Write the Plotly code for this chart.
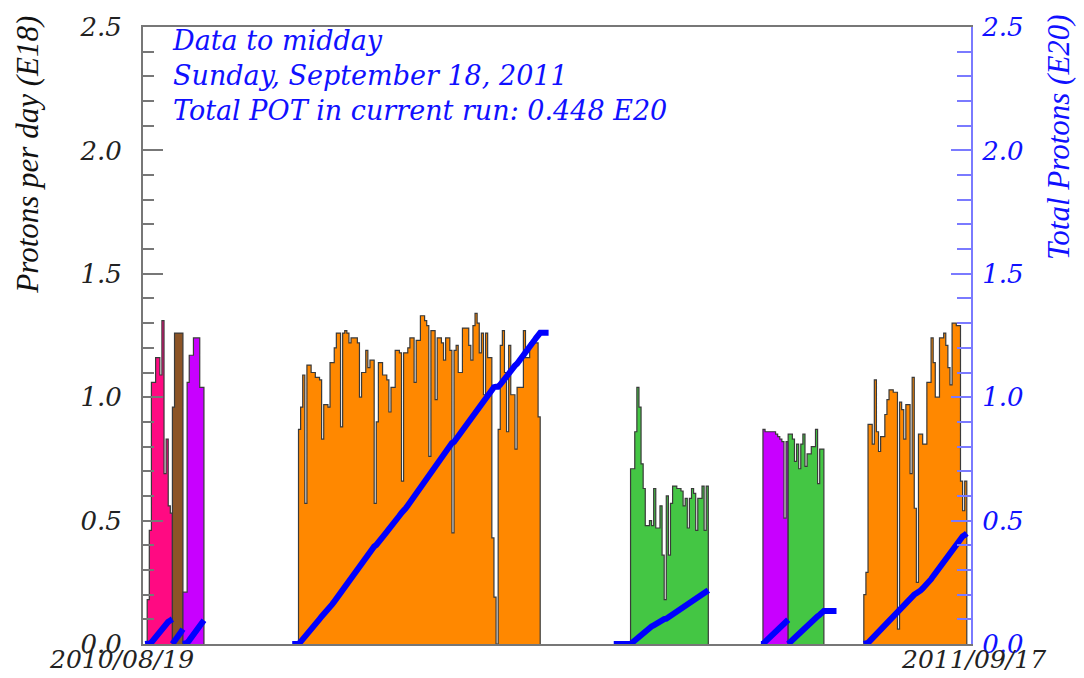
import numpy as np
import pandas as pd
import plotly.graph_objects as go

# ---------------------------------------------------------------- data
axis_start = "2010-08-19"
axis_end = "2011-09-17"
date_labels = ["2010/08/19", "2011/09/17"]
y_tick_values = [0.0, 0.5, 1.0, 1.5, 2.0, 2.5]

header_lines = ["Data to midday", "Sunday, September 18, 2011"]

# daily protons on target (E18) per running period
pink_first_day = "2010-08-21"
pink_pot = [0.18, 0.46, 1.06, 1.06, 1.16, 1.16, 1.09, 1.31, 0.69, 0.83, 0.56, 0.53]
pink_window = ("2010-08-20", "2010-09-02")

brown_first_day = "2010-09-02"
brown_pot = [0.96, 1.26, 1.26, 1.26, 1.26]
brown_window = ("2010-09-02", "2010-09-07")

purple_first_day = "2010-09-07"
purple_pot = [0.21, 0.21, 1.06, 1.17, 1.17, 1.24, 1.24, 1.24, 1.04, 1.04]
purple_window = ("2010-09-07", "2010-09-17")

orange_first_day = "2010-11-01"
orange_pot = [
    0.87, 0.96, 1.09, 0.57, 1.13, 1.13, 1.10, 1.10, 1.08, 1.08,
    1.07, 0.83, 0.97, 0.97, 0.96, 1.14, 1.14, 1.20, 1.26, 1.26,
    0.88, 1.26, 1.27, 1.26, 1.22, 1.24, 1.24, 1.24, 1.22, 1.00,
    1.10, 1.10, 1.19, 1.12, 1.15, 1.15, 0.57, 0.90, 1.14, 1.14,
    1.09, 1.09, 1.07, 0.94, 1.04, 1.04, 1.19, 1.19, 1.18, 0.66,
    1.18, 1.18, 1.20, 1.24, 1.24, 1.06, 1.23, 1.23, 1.33, 1.33,
    1.31, 1.29, 0.76, 1.27, 1.27, 0.99, 1.24, 1.24, 1.22, 1.15,
    1.24, 1.24, 1.19, 0.45, 1.19, 1.21, 1.10, 1.10, 1.28, 1.28,
    1.28, 1.21, 1.15, 1.29, 1.34, 1.30, 1.18, 1.26, 1.01, 1.26,
    1.16, 1.16, 0.43, 0.19, 0.00, 0.87, 1.21, 1.27, 1.10, 0.86,
    1.21, 1.01, 1.01, 0.79, 1.04, 1.04, 1.04, 1.27, 1.16, 1.16,
    1.22, 1.22, 1.22, 1.22, 0.92,
]
orange_window = ("2010-10-29", "2011-02-28")

green_first_day = "2011-04-08"
green_pot = [
    0.71, 0.71, 0.86, 1.04, 0.96, 0.73, 0.63, 0.48, 0.48, 0.50,
    0.48, 0.63, 0.47, 0.47, 0.56, 0.36, 0.18, 0.60, 0.36, 0.57,
    0.64, 0.64, 0.63, 0.63, 0.62, 0.56, 0.59, 0.47, 0.59, 0.63,
    0.61, 0.46, 0.59, 0.59, 0.64, 0.46, 0.64,
]
green_window = ("2011-03-31", "2011-05-15")

purple2_first_day = "2011-06-10"
purple2_pot = [0.87, 0.86, 0.86, 0.86, 0.86, 0.86, 0.85, 0.84, 0.83, 0.82, 0.51, 0.82]
purple2_window = ("2011-06-09", "2011-06-22")

green2_first_day = "2011-06-22"
green2_pot = [0.85, 0.85, 0.83, 0.74, 0.81, 0.71, 0.81, 0.85, 0.72, 0.77,
              0.77, 0.80, 0.80, 0.87, 0.65, 0.79, 0.79]
green2_window = ("2011-06-22", "2011-07-15")

current_first_day = "2011-07-28"
current_pot = [
    0.20, 0.29, 0.89, 0.89, 0.81, 1.07, 0.86, 0.78, 0.84, 0.84,
    0.93, 0.99, 1.03, 1.03, 1.02, 1.02, 0.06, 0.98, 0.95, 0.83,
    0.97, 0.97, 0.69, 1.08, 0.55, 0.25, 0.85, 0.85, 0.81, 0.81,
    1.06, 1.06, 1.24, 1.14, 1.00, 1.00, 1.24, 1.24, 1.26, 1.21,
    1.12, 1.05, 1.30, 1.30, 1.29, 1.29, 0.66, 0.54, 0.66,
]
current_window = ("2011-07-28", "2011-09-15")

# ---------------------------------------------------------------- styles
PINK = "#ff0a82"
BROWN = "#8c5426"
PURPLE = "#c800ff"
ORANGE = "#ff8800"
GREEN = "#44c644"
OUTLINE = "#3a3a3a"
CUM_BLUE = "#0000ff"
RIGHT_AXIS = "#7a7aff"
TEXT_BLUE = "#1010ff"
FONT = "DejaVu Serif"

runs = [
    (pink_first_day, pink_pot, PINK, pink_window),
    (brown_first_day, brown_pot, BROWN, brown_window),
    (purple_first_day, purple_pot, PURPLE, purple_window),
    (orange_first_day, orange_pot, ORANGE, orange_window),
    (green_first_day, green_pot, GREEN, green_window),
    (purple2_first_day, purple2_pot, PURPLE, purple2_window),
    (green2_first_day, green2_pot, GREEN, green2_window),
    (current_first_day, current_pot, ORANGE, current_window),
]

# plot-area geometry in pixels
W, H = 1084, 678
L, R, T, B = 143, 971, 16, 644


def px(x):
    return (x - L) / (R - L)


def py(y):
    return (B - y) / (B - T)


def day_edges(first_day, n):
    start = pd.Timestamp(first_day)
    return [start + pd.Timedelta(days=i) for i in range(n + 1)]


fig = go.Figure()

# daily histograms (step outline, filled)
for first_day, values, colour, _ in runs:
    edges = day_edges(first_day, len(values))
    xs = [edges[0]] + edges[:-1] + [edges[-1], edges[-1]]
    ys = [0.0] + list(values) + [values[-1], 0.0]
    fig.add_trace(go.Scatter(
        x=xs, y=ys, mode="lines", line=dict(shape="hv", color=OUTLINE, width=1.2),
        fill="tozeroy", fillcolor=colour, hoverinfo="skip", showlegend=False,
    ))

# cumulative protons for each period (E20)
for first_day, values, _, window in runs:
    edges = day_edges(first_day, len(values))
    cum = np.cumsum(values) / 100.0
    xs = [pd.Timestamp(window[0]), edges[0]] + edges[1:] + [pd.Timestamp(window[1])]
    ys = [0.0, 0.0] + list(cum) + [cum[-1]]
    fig.add_trace(go.Scatter(
        x=xs, y=ys, yaxis="y2", mode="lines",
        line=dict(color=CUM_BLUE, width=6), hoverinfo="skip", showlegend=False,
    ))

current_total = sum(current_pot) / 100.0
header = header_lines + [f"Total POT in current run: {current_total:.3f} E20"]

annotations = [dict(
    text="<br>".join(header), xref="paper", yref="paper", x=px(170), y=py(12),
    xanchor="left", yanchor="top", align="left", showarrow=False,
    font=dict(family=FONT, size=27, color=TEXT_BLUE, style="italic"),
)]

date_font = dict(family=FONT, size=25, color="#222222", style="italic")
annotations.append(dict(
    text=date_labels[0], xref="paper", yref="paper", x=px(121), y=py(677),
    xanchor="center", yanchor="bottom", showarrow=False, font=date_font,
))
annotations.append(dict(
    text=date_labels[1], xref="paper", yref="paper", x=px(973), y=py(677),
    xanchor="center", yanchor="bottom", showarrow=False, font=date_font,
))
annotations.append(dict(
    text="Protons per day (E18)", xref="paper", yref="paper", x=px(28), y=py(146),
    xanchor="center", yanchor="middle", textangle=-90, showarrow=False,
    font=dict(family="Liberation Serif", size=31, color="#111111", style="italic"),
))
annotations.append(dict(
    text="Total Protons (E20)", xref="paper", yref="paper", x=px(1058), y=py(128),
    xanchor="center", yanchor="middle", textangle=-90, showarrow=False,
    font=dict(family="Liberation Serif", size=31, color=TEXT_BLUE, style="italic"),
))

fig.update_layout(
    width=W, height=H,
    margin=dict(l=L, r=W - R, t=T, b=H - B, pad=0),
    paper_bgcolor="white", plot_bgcolor="white",
    showlegend=False,
    annotations=annotations,
    xaxis=dict(
        type="date", range=[axis_start, axis_end],
        showgrid=False, zeroline=False, showline=True, linecolor="#777777",
        linewidth=2, mirror=True, ticks="", showticklabels=False,
    ),
    yaxis=dict(
        range=[0, 2.5], tickvals=y_tick_values, tickformat=".1f",
        showgrid=False, zeroline=False, showline=True, linecolor="#777777",
        linewidth=2, ticks="inside", ticklen=20, tickwidth=2, tickcolor="#777777",
        minor=dict(dtick=0.1, ticks="inside", ticklen=11, tickwidth=2, tickcolor="#777777"),
        ticklabelstandoff=14,
        tickfont=dict(family=FONT, size=26, color="#222222", style="italic"),
    ),
    yaxis2=dict(
        overlaying="y", side="right", range=[0, 2.5], tickvals=y_tick_values,
        tickformat=".1f", showgrid=False, zeroline=False, showline=True,
        linecolor=RIGHT_AXIS, linewidth=2, ticks="inside", ticklen=20, tickwidth=2,
        tickcolor=RIGHT_AXIS,
        minor=dict(dtick=0.1, ticks="inside", ticklen=14, tickwidth=2, tickcolor=RIGHT_AXIS),
        ticklabelstandoff=4,
        tickfont=dict(family=FONT, size=26, color=TEXT_BLUE, style="italic"),
    ),
)

fig.write_html("out.html")
